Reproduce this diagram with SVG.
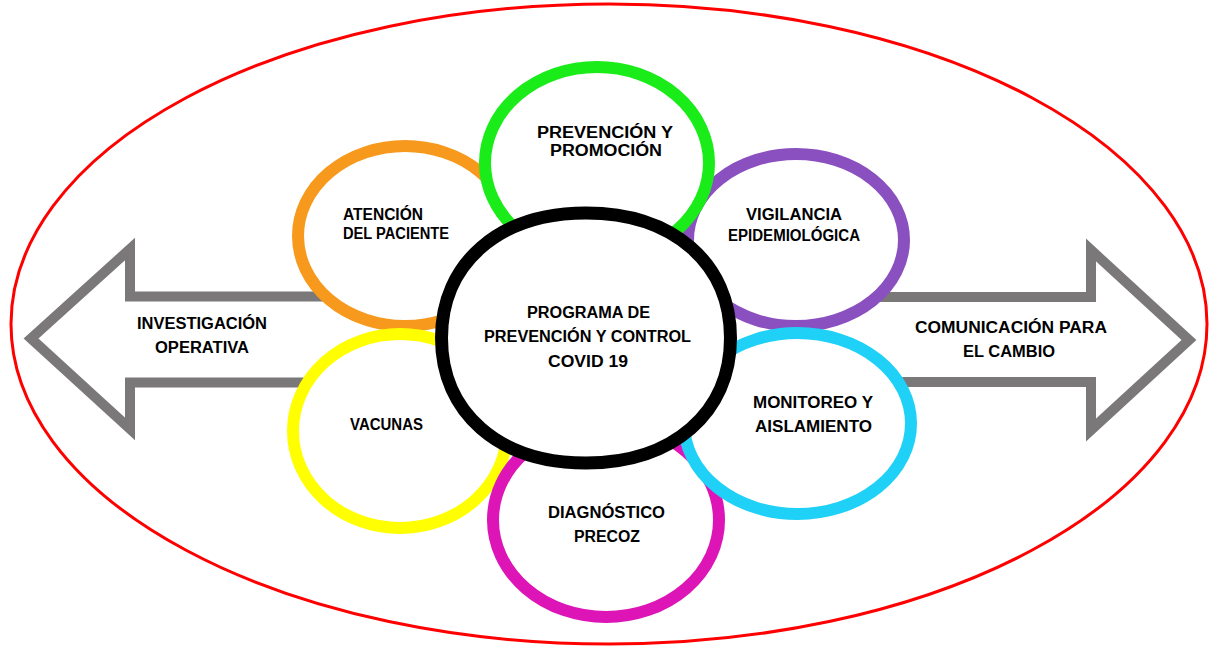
<svg xmlns="http://www.w3.org/2000/svg" width="1213" height="647" viewBox="0 0 1213 647">
<style>
.lbl{font-family:"Liberation Sans",Arial,sans-serif;font-weight:bold;font-size:16px;fill:#000;text-anchor:middle}
.pet{fill:#fff;stroke-width:12}
.arrow{fill:none;stroke:#7a7878;stroke-width:10;stroke-linejoin:miter;stroke-miterlimit:10}
</style>
<rect width="1213" height="647" fill="#fff"/>
<g id="frame">
<ellipse cx="609" cy="324" rx="598" ry="320" fill="none" stroke="#ff0000" stroke-width="3"/>
</g>
<g id="arrow-left">
<path class="arrow" d="M400,296.5 L130,296.5 L130,249 L31,338.5 L130,429 L130,382.5 L400,382.5"/>
<text class="lbl" x="202" y="329" textLength="130" lengthAdjust="spacingAndGlyphs">INVESTIGACIÓN</text>
<text class="lbl" x="202" y="353" textLength="94" lengthAdjust="spacingAndGlyphs">OPERATIVA</text>
</g>
<g id="arrow-right">
<path class="arrow" d="M800,297 L1091,297 L1091,250 L1189,340 L1091,430 L1091,382 L800,382"/>
<text class="lbl" x="1011" y="333" textLength="192" lengthAdjust="spacingAndGlyphs">COMUNICACIÓN PARA</text>
<text class="lbl" x="1009" y="357" textLength="92" lengthAdjust="spacingAndGlyphs">EL CAMBIO</text>
</g>
<g id="atencion">
<ellipse class="pet" cx="405" cy="236" rx="107" ry="90" stroke="#f7991c"/>
<text class="lbl" x="383" y="220" textLength="80" lengthAdjust="spacingAndGlyphs">ATENCIÓN</text>
<text class="lbl" x="396" y="239" textLength="106" lengthAdjust="spacingAndGlyphs">DEL PACIENTE</text>
</g>
<g id="vigilancia">
<ellipse class="pet" cx="796" cy="240" rx="108" ry="86" stroke="#8b50c0"/>
<text class="lbl" x="794" y="220" textLength="96" lengthAdjust="spacingAndGlyphs">VIGILANCIA</text>
<text class="lbl" x="794" y="241" textLength="132" lengthAdjust="spacingAndGlyphs">EPIDEMIOLÓGICA</text>
</g>
<g id="prevencion">
<ellipse class="pet" cx="597" cy="163" rx="112" ry="96" stroke="#19ec19"/>
<text class="lbl" x="605" y="138" textLength="136" lengthAdjust="spacingAndGlyphs">PREVENCIÓN Y</text>
<text class="lbl" x="606" y="156" textLength="112" lengthAdjust="spacingAndGlyphs">PROMOCIÓN</text>
</g>
<g id="vacunas">
<ellipse class="pet" cx="400" cy="431" rx="107" ry="97" stroke="#ffff00"/>
<text class="lbl" x="386.5" y="430" textLength="73" lengthAdjust="spacingAndGlyphs">VACUNAS</text>
</g>
<g id="diagnostico">
<ellipse class="pet" cx="606" cy="520" rx="113" ry="97" stroke="#dd15b6"/>
<text class="lbl" x="606.5" y="518" textLength="117" lengthAdjust="spacingAndGlyphs">DIAGNÓSTICO</text>
<text class="lbl" x="607" y="542" textLength="66" lengthAdjust="spacingAndGlyphs">PRECOZ</text>
</g>
<g id="monitoreo">
<ellipse class="pet" cx="797.5" cy="423.5" rx="113.5" ry="90.5" stroke="#1fd1f7"/>
<text class="lbl" x="813" y="408" textLength="120" lengthAdjust="spacingAndGlyphs">MONITOREO Y</text>
<text class="lbl" x="813.5" y="432" textLength="117" lengthAdjust="spacingAndGlyphs">AISLAMIENTO</text>
</g>
<g id="programa">
<path d="M441.5,338 C441.5,263 499.3,213 586,213 C672.7,213 730.5,263 730.5,338 C730.5,413 672.7,463 586,463 C499.3,463 441.5,413 441.5,338 Z" fill="#fff" stroke="#000" stroke-width="13"/>
<text class="lbl" x="588.5" y="318" textLength="123" lengthAdjust="spacingAndGlyphs">PROGRAMA DE</text>
<text class="lbl" x="587.5" y="342" textLength="207" lengthAdjust="spacingAndGlyphs">PREVENCIÓN Y CONTROL</text>
<text class="lbl" x="588" y="367" textLength="80" lengthAdjust="spacingAndGlyphs">COVID 19</text>
</g>
<g id="connectors"></g>
</svg>
